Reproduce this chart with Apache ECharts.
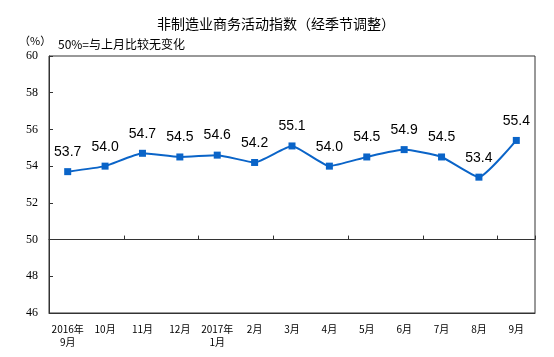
<!DOCTYPE html>
<html><head><meta charset="utf-8">
<script src="https://cdn.jsdelivr.net/npm/echarts@6/dist/echarts.min.js"></script>
<style>html,body{margin:0;padding:0;background:#fff}#c{width:554px;height:357px}</style>
</head><body><div id="c"></div>
<script>
const categories = ['2016年\n9月','10月','11月','12月','2017年\n1月','2月','3月','4月','5月','6月','7月','8月','9月'];
const values = [53.7, 54.0, 54.7, 54.5, 54.6, 54.2, 55.1, 54.0, 54.5, 54.9, 54.5, 53.4, 55.4];
const yTicks = { min: 46, max: 60, interval: 2 };
const titleText = '非制造业商务活动指数（经季节调整）';
const unitText = '（%）';
const noteText = '50%=与上月比较无变化';

const chart = echarts.init(document.getElementById('c'));
const gridTop = 56, gridBottom = 44, H = 357;
const plotH = H - gridTop - gridBottom;
const line50Offset = -plotH * (50 - yTicks.min) / (yTicks.max - yTicks.min);
chart.setOption({
  animation: false,
  title: [
    { text: titleText, left: 271, top: 12, textAlign: 'center',
      textStyle: { fontSize: 14, fontWeight: 'normal', color: '#000', fontFamily: 'Noto Sans CJK SC' } },
    { text: unitText, left: 14, top: 30,
      textStyle: { fontSize: 11, fontWeight: 'normal', color: '#000', fontFamily: 'Noto Sans CJK SC' } },
    { text: noteText, left: 53, top: 33,
      textStyle: { fontSize: 12, fontWeight: 'normal', color: '#000', fontFamily: 'Noto Sans CJK SC' } }
  ],
  grid: { left: 49, right: 19, top: gridTop, bottom: gridBottom, show: true, borderColor: '#333', borderWidth: 1 },
  xAxis: [
    { type: 'category', data: categories, boundaryGap: true, position: 'bottom',
      axisLine: { lineStyle: { color: '#333', width: 1 } }, axisTick: { show: false },
      axisLabel: { color: '#000', fontSize: 10, fontFamily: 'Noto Sans CJK SC', margin: 10, lineHeight: 13, interval: 0 } },
    { type: 'category', data: categories, boundaryGap: true, position: 'bottom', offset: line50Offset,
      axisLine: { lineStyle: { color: '#333', width: 1 } },
      axisTick: { show: true, inside: true, length: 4, lineStyle: { color: '#333' } },
      axisLabel: { show: false } }
  ],
  yAxis: {
    type: 'value', min: yTicks.min, max: yTicks.max, interval: yTicks.interval,
    axisLine: { show: true, lineStyle: { color: '#333', width: 1 } },
    axisTick: { show: true, inside: true, length: 4, lineStyle: { color: '#333' } },
    splitLine: { show: false },
    axisLabel: { color: '#000', fontSize: 12, fontFamily: 'Liberation Serif', margin: 11 }
  },
  series: [{
    type: 'line', data: values, xAxisIndex: 0, smooth: 0.15,
    lineStyle: { color: '#0a64c8', width: 2 },
    itemStyle: { color: '#0a64c8' },
    symbol: 'rect', symbolSize: 7,
    label: { show: true, position: 'top', distance: 9, color: '#000', fontSize: 14,
      fontFamily: 'Liberation Sans', formatter: p => p.value.toFixed(1) }
  }]
});
</script></body></html>
